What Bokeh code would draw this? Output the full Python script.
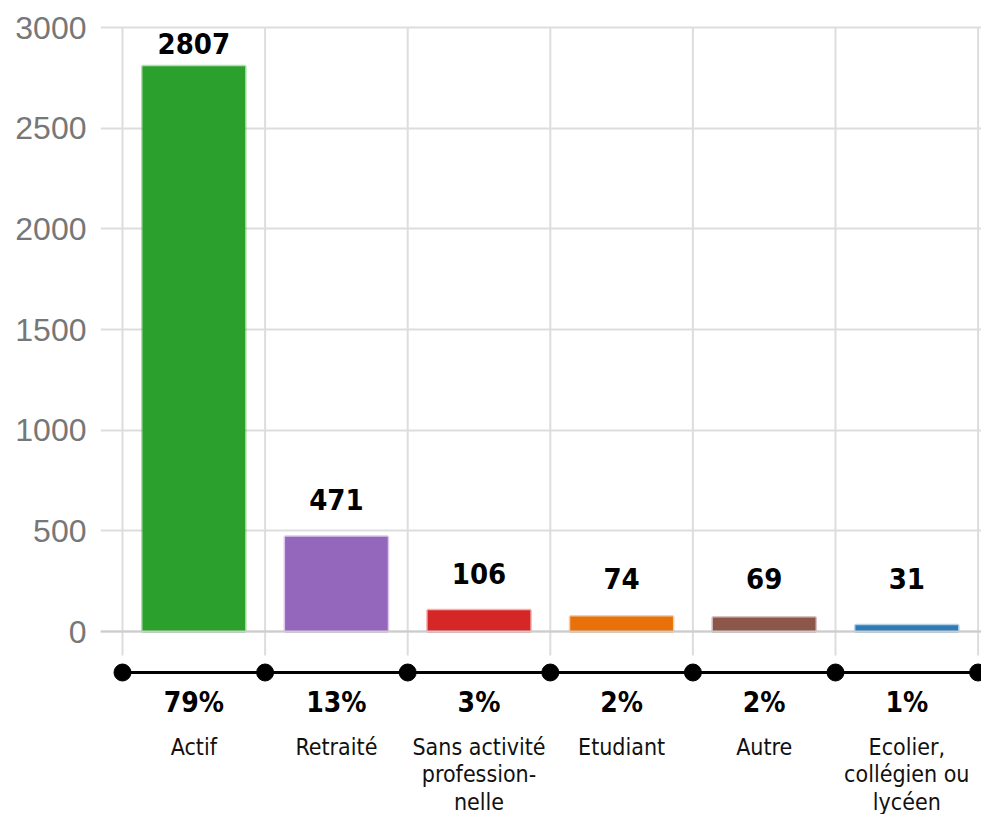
from bokeh.plotting import figure
from bokeh.models import Range1d, FixedTicker, ColumnDataSource, Span
from bokeh.core.properties import value
from bokeh.embed import file_html
from bokeh.resources import INLINE

# ---- data ----
categories = ["Actif", "Retraité", "Sans activité\nprofession-\nnelle",
              "Etudiant", "Autre", "Ecolier,\ncollégien ou\nlycéen"]
counts = [2807, 471, 106, 74, 69, 31]
colors = ["#2ca02c", "#9467bd", "#d62728", "#e8710a", "#8c564b", "#2f7bb6"]
y_ticks = [0, 500, 1000, 1500, 2000, 2500, 3000]

# ---- layout constants ----
W, H = 981, 814
LEFT = 100                # frame left inside figure
ZERO_PX = 631             # y pixel (from figure top) of value 0
UNIT = 604 / 3000         # pixels per unit
STEP = 142.6              # pixels per category
FIRST = 122 - LEFT        # pixel offset of first boundary from frame left
NARROW = "'DejaVu Sans Condensed', 'Liberation Sans Narrow', Roboto"

n = len(categories)
centers = [i + 0.5 for i in range(n)]
bounds = list(range(n + 1))
total = sum(counts)
pcts = [f"{round(c / total * 100)}%" for c in counts]

def px(dy):
    return dy / UNIT

label_y = [min(max(c + px(37), px(53)), 2920) for c in counts]

x_start = -FIRST / STEP
x_end = x_start + (W - LEFT) / STEP
y_end = ZERO_PX / UNIT
y_start = -(H - ZERO_PX) / UNIT

p = figure(width=W, height=H, output_backend="svg", toolbar_location=None,
           x_range=Range1d(x_start, x_end), y_range=Range1d(y_start, y_end),
           x_axis_location=None, min_border_left=LEFT, min_border_right=0,
           min_border_top=0, min_border_bottom=0)
p.outline_line_color = None
p.xgrid.visible = False
p.ygrid.ticker = FixedTicker(ticks=y_ticks)
p.ygrid.grid_line_color = "#dddddd"
p.ygrid.grid_line_width = 2

ax = p.yaxis[0]
ax.ticker = FixedTicker(ticks=y_ticks)
ax.axis_line_color = None
ax.major_tick_line_color = None
ax.minor_tick_line_color = None
ax.major_label_text_font = "Liberation Sans"
ax.major_label_text_font_size = "32px"
ax.major_label_text_color = "#777777"
ax.major_label_standoff = 8

# vertical separators
p.segment(x0=bounds, y0=[-px(24)] * len(bounds), x1=bounds, y1=[max(y_ticks)] * len(bounds),
          line_color="#dddddd", line_width=2)
p.add_layout(Span(location=0, dimension="width", line_color="#cccccc", line_width=2))

src = ColumnDataSource(dict(x=centers, top=counts, color=colors, ly=label_y,
                            lab=[str(c) for c in counts], pct=pcts, cat=categories))

p.vbar(x="x", top="top", bottom=0, width=0.72, source=src, fill_color="color",
       line_color="color", line_alpha=0.35, line_width=3)

p.text(x="x", y="ly", text="lab", source=src, text_align="center",
       text_baseline="middle", text_font=value(NARROW),
       text_font_style="bold", text_font_size="29px", text_color="#000000")

# bottom axis line with dots
line_y = -px(41)
p.line(x=[bounds[0], bounds[-1]], y=[line_y, line_y], line_color="#000000", line_width=3)
p.scatter(x=bounds, y=[line_y] * len(bounds), size=17, color="#000000")

p.text(x="x", y=value(-px(71)), text="pct", source=src, text_align="center",
       text_baseline="middle", text_font=value(NARROW),
       text_font_style="bold", text_font_size="28px", text_color="#000000")

p.text(x="x", y=value(-px(102)), text="cat", source=src, text_align="center",
       text_baseline="top", text_font=value(NARROW),
       text_font_size="23px", text_line_height=1.07, text_color="#111111")

open("out.html", "w").write(file_html(p, INLINE))
